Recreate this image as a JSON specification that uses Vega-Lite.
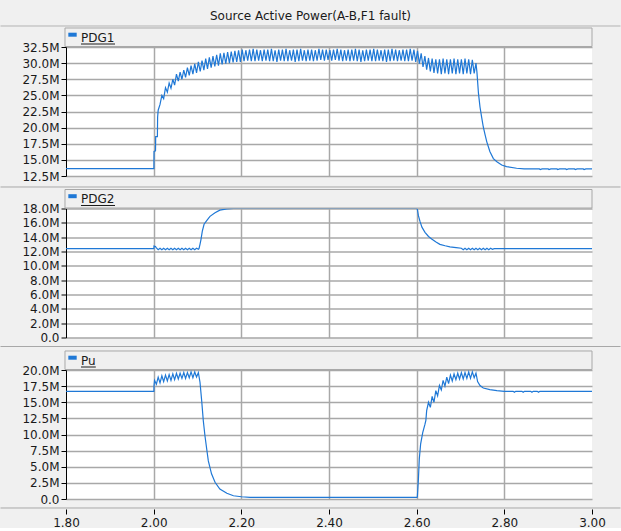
{
"$schema": "https://vega.github.io/schema/vega-lite/v6.json",
"background": "#f0f0f0",
"padding": {"left": 0, "right": 0, "top": 10, "bottom": 0},
"title": {"text": "Source Active Power(A-B,F1 fault)", "font": "DejaVu Sans", "fontSize": 12, "fontWeight": "normal", "color": "#1a1a1a", "offset": 2, "anchor": "middle"},
"config": {
  "view": {"fill": "white", "stroke": null},
  "concat": {"spacing": 32.5},
  "axis": {"gridColor": "#a8a8a8", "gridWidth": 1.5, "labelFont": "DejaVu Sans", "labelFontSize": 12, "labelColor": "#1a1a1a", "labelOverlap": false, "domainColor": "#000000", "tickColor": "#000000", "tickSize": 5},
  "axisY": {"labelPadding": 2, "labelExpr": "datum.value == 0 ? '0.0' : format(datum.value, '.1f') + 'M'"}
},
"datasets": {
"pdg1": [
{"t":1.8,"p":13.65},{"t":2.0005,"p":13.65},{"t":2.0008,"p":16.3},{"t":2.0042,"p":16.4},{"t":2.0046,"p":18.6},{"t":2.0085,"p":18.6},{"t":2.009,"p":21.6},{"t":2.0103,"p":22.7},{"t":2.0145,"p":23.6},{"t":2.0187,"p":25.0},{"t":2.0228,"p":24.5},
{"t":2.027,"p":26.2},{"t":2.0312,"p":25.5},{"t":2.0353,"p":26.9},{"t":2.0395,"p":26.1},{"t":2.0437,"p":27.5},{"t":2.0478,"p":26.6},
{"t":2.052,"p":28.3},{"t":2.0562,"p":27.2},{"t":2.0603,"p":28.6},{"t":2.0645,"p":27.5},{"t":2.0687,"p":28.9},{"t":2.0728,"p":27.8},
{"t":2.077,"p":29.3},{"t":2.0812,"p":28.1},{"t":2.0853,"p":29.6},{"t":2.0895,"p":28.3},{"t":2.0937,"p":29.9},{"t":2.0978,"p":28.5},
{"t":2.102,"p":30.2},{"t":2.1062,"p":28.7},{"t":2.1103,"p":30.4},{"t":2.1145,"p":28.9},{"t":2.1187,"p":30.7},{"t":2.1228,"p":29.1},
{"t":2.127,"p":30.9},{"t":2.1312,"p":29.3},{"t":2.1353,"p":31.1},{"t":2.1395,"p":29.5},{"t":2.1437,"p":31.3},{"t":2.1478,"p":29.6},
{"t":2.152,"p":31.5},{"t":2.1562,"p":29.8},{"t":2.1603,"p":31.6},{"t":2.1645,"p":29.9},{"t":2.1687,"p":31.7},{"t":2.1728,"p":30.0},
{"t":2.177,"p":31.8},{"t":2.1812,"p":30.1},{"t":2.1853,"p":31.9},{"t":2.1895,"p":30.2},{"t":2.1937,"p":32.0},{"t":2.1978,"p":30.2},
{"t":2.202,"p":32.1},{"t":2.2062,"p":30.3},{"t":2.2103,"p":32.0},{"t":2.2145,"p":30.4},{"t":2.2187,"p":32.1},{"t":2.2228,"p":30.3},
{"t":2.227,"p":32.2},{"t":2.2312,"p":30.3},{"t":2.2353,"p":32.1},{"t":2.2395,"p":30.4},{"t":2.2437,"p":32.0},{"t":2.2478,"p":30.3},
{"t":2.252,"p":32.1},{"t":2.2562,"p":30.4},{"t":2.2603,"p":32.1},{"t":2.2645,"p":30.3},{"t":2.2687,"p":32.2},{"t":2.2728,"p":30.3},
{"t":2.277,"p":32.0},{"t":2.2812,"p":30.2},{"t":2.2853,"p":32.1},{"t":2.2895,"p":30.4},{"t":2.2937,"p":32.1},{"t":2.2978,"p":30.3},
{"t":2.302,"p":32.2},{"t":2.3062,"p":30.3},{"t":2.3103,"p":32.0},{"t":2.3145,"p":30.4},{"t":2.3187,"p":32.1},{"t":2.3228,"p":30.2},
{"t":2.327,"p":32.1},{"t":2.3312,"p":30.3},{"t":2.3353,"p":32.2},{"t":2.3395,"p":30.4},{"t":2.3437,"p":32.0},{"t":2.3478,"p":30.3},
{"t":2.352,"p":32.1},{"t":2.3562,"p":30.4},{"t":2.3603,"p":32.1},{"t":2.3645,"p":30.3},{"t":2.3687,"p":32.0},{"t":2.3728,"p":30.4},
{"t":2.377,"p":32.2},{"t":2.3812,"p":30.5},{"t":2.3853,"p":32.1},{"t":2.3895,"p":30.4},{"t":2.3937,"p":32.1},{"t":2.3978,"p":30.5},
{"t":2.402,"p":32.0},{"t":2.4062,"p":30.4},{"t":2.4103,"p":32.1},{"t":2.4145,"p":30.5},{"t":2.4187,"p":32.2},{"t":2.4228,"p":30.4},
{"t":2.427,"p":32.1},{"t":2.4312,"p":30.3},{"t":2.4353,"p":32.0},{"t":2.4395,"p":30.4},{"t":2.4437,"p":32.1},{"t":2.4478,"p":30.3},
{"t":2.452,"p":32.1},{"t":2.4562,"p":30.4},{"t":2.4603,"p":32.2},{"t":2.4645,"p":30.3},{"t":2.4687,"p":32.1},{"t":2.4728,"p":30.2},
{"t":2.477,"p":32.0},{"t":2.4812,"p":30.3},{"t":2.4853,"p":32.1},{"t":2.4895,"p":30.4},{"t":2.4937,"p":32.1},{"t":2.4978,"p":30.3},
{"t":2.502,"p":32.2},{"t":2.5062,"p":30.3},{"t":2.5103,"p":32.1},{"t":2.5145,"p":30.4},{"t":2.5187,"p":32.0},{"t":2.5228,"p":30.3},
{"t":2.527,"p":32.1},{"t":2.5312,"p":30.2},{"t":2.5353,"p":32.1},{"t":2.5395,"p":30.3},{"t":2.5437,"p":32.2},{"t":2.5478,"p":30.4},
{"t":2.552,"p":32.1},{"t":2.5562,"p":30.3},{"t":2.5603,"p":32.0},{"t":2.5645,"p":30.4},{"t":2.5687,"p":32.1},{"t":2.5728,"p":30.3},
{"t":2.577,"p":32.1},{"t":2.5812,"p":30.3},{"t":2.5853,"p":32.2},{"t":2.5895,"p":30.4},{"t":2.5937,"p":32.1},{"t":2.5978,"p":30.2},
{"t":2.602,"p":31.9},{"t":2.6062,"p":29.9},{"t":2.6103,"p":31.5},{"t":2.6145,"p":29.4},{"t":2.6187,"p":31.1},{"t":2.6228,"p":29.0},
{"t":2.627,"p":30.8},{"t":2.6312,"p":28.7},{"t":2.6353,"p":30.7},{"t":2.6395,"p":28.5},{"t":2.6437,"p":30.6},{"t":2.6478,"p":28.4},
{"t":2.652,"p":30.6},{"t":2.6562,"p":28.3},{"t":2.6603,"p":30.7},{"t":2.6645,"p":28.4},{"t":2.6687,"p":30.6},{"t":2.6728,"p":28.3},
{"t":2.677,"p":30.6},{"t":2.6812,"p":28.4},{"t":2.6853,"p":30.7},{"t":2.6895,"p":28.3},{"t":2.6937,"p":30.6},{"t":2.6978,"p":28.4},
{"t":2.702,"p":30.6},{"t":2.7062,"p":28.3},{"t":2.7103,"p":30.7},{"t":2.7145,"p":28.4},{"t":2.7187,"p":30.6},{"t":2.7228,"p":28.3},
{"t":2.727,"p":30.5},{"t":2.7312,"p":28.4},{"t":2.7353,"p":30.0},{"t":2.7375,"p":28.6},
{"t":2.741,"p":25.3},{"t":2.7445,"p":23.2},{"t":2.748,"p":21.7},{"t":2.752,"p":20.1},{"t":2.756,"p":18.9},{"t":2.76,"p":17.8},{"t":2.767,"p":16.3},{"t":2.775,"p":15.2},{"t":2.783,"p":14.7},{"t":2.794,"p":14.2},{"t":2.805,"p":13.95},{"t":2.828,"p":13.7},{"t":2.845,"p":13.6},
{"t":2.88,"p":13.6},{"t":2.882,"p":13.5},{"t":2.886,"p":13.6},{"t":2.9,"p":13.6},{"t":2.902,"p":13.5},{"t":2.906,"p":13.6},{"t":2.92,"p":13.6},{"t":2.922,"p":13.5},{"t":2.926,"p":13.6},{"t":2.94,"p":13.6},{"t":2.942,"p":13.5},{"t":2.946,"p":13.6},{"t":2.96,"p":13.6},{"t":2.962,"p":13.5},{"t":2.966,"p":13.6},{"t":2.98,"p":13.6},{"t":2.982,"p":13.5},{"t":2.986,"p":13.6},{"t":3.0,"p":13.6}
],
"pdg2": [
{"t":1.8,"p":12.4},{"t":2.0005,"p":12.4},{"t":2.0008,"p":12.77},{"t":2.004,"p":12.7},{"t":2.0062,"p":12.5},{"t":2.0103,"p":12.25},{"t":2.0145,"p":12.45},{"t":2.0187,"p":12.25},{"t":2.0228,"p":12.45},{"t":2.027,"p":12.25},{"t":2.0312,"p":12.45},{"t":2.0353,"p":12.25},{"t":2.0395,"p":12.45},{"t":2.0437,"p":12.25},{"t":2.0478,"p":12.45},{"t":2.052,"p":12.25},{"t":2.0562,"p":12.45},{"t":2.0603,"p":12.25},{"t":2.0645,"p":12.45},{"t":2.0687,"p":12.25},{"t":2.0728,"p":12.45},{"t":2.077,"p":12.25},{"t":2.0812,"p":12.45},{"t":2.0853,"p":12.25},{"t":2.0895,"p":12.45},{"t":2.0937,"p":12.25},{"t":2.0978,"p":12.45},{"t":2.102,"p":12.3},{"t":2.1034,"p":12.4},
{"t":2.1057,"p":13.0},{"t":2.108,"p":13.7},{"t":2.111,"p":14.85},{"t":2.115,"p":15.8},{"t":2.121,"p":16.3},{"t":2.1285,"p":16.9},{"t":2.14,"p":17.4},{"t":2.151,"p":17.77},{"t":2.167,"p":17.96},{"t":2.182,"p":18.0},{"t":2.6,"p":18.0},
{"t":2.6015,"p":17.9},{"t":2.604,"p":17.0},{"t":2.6076,"p":16.2},{"t":2.612,"p":15.4},{"t":2.619,"p":14.67},{"t":2.627,"p":14.1},{"t":2.635,"p":13.7},{"t":2.645,"p":13.3},{"t":2.653,"p":13.0},{"t":2.665,"p":12.8},{"t":2.676,"p":12.65},{"t":2.69,"p":12.55},
{"t":2.702,"p":12.45},{"t":2.7062,"p":12.25},{"t":2.7103,"p":12.45},{"t":2.7145,"p":12.25},{"t":2.7187,"p":12.45},{"t":2.7228,"p":12.25},{"t":2.727,"p":12.45},{"t":2.7312,"p":12.25},{"t":2.7353,"p":12.45},{"t":2.7395,"p":12.25},{"t":2.7437,"p":12.45},{"t":2.7478,"p":12.25},{"t":2.752,"p":12.45},{"t":2.7562,"p":12.25},{"t":2.7603,"p":12.45},{"t":2.7645,"p":12.25},{"t":2.7687,"p":12.45},{"t":2.7728,"p":12.3},{"t":2.777,"p":12.4},{"t":3.0,"p":12.4}
],
"pu": [
{"t":1.8,"p":16.7},{"t":2.0005,"p":16.7},{"t":2.0008,"p":17.6},{"t":2.002,"p":18.4},{"t":2.0062,"p":17.8},{"t":2.0103,"p":18.9},{"t":2.0145,"p":18.0},{"t":2.0187,"p":19.1},{"t":2.0228,"p":18.2},
{"t":2.027,"p":19.2},{"t":2.0312,"p":18.3},{"t":2.0353,"p":19.3},{"t":2.0395,"p":18.4},{"t":2.0437,"p":19.4},{"t":2.0478,"p":18.5},
{"t":2.052,"p":19.5},{"t":2.0562,"p":18.6},{"t":2.0603,"p":19.5},{"t":2.0645,"p":18.7},{"t":2.0687,"p":19.6},{"t":2.0728,"p":18.7},
{"t":2.077,"p":19.6},{"t":2.0812,"p":18.8},{"t":2.0853,"p":19.7},{"t":2.0895,"p":18.8},{"t":2.0937,"p":19.7},{"t":2.0978,"p":18.9},{"t":2.102,"p":19.6},
{"t":2.1057,"p":18.1},{"t":2.1096,"p":15.2},{"t":2.1133,"p":12.1},{"t":2.117,"p":9.8},{"t":2.121,"p":7.75},{"t":2.1247,"p":5.9},{"t":2.132,"p":3.9},{"t":2.14,"p":2.6},{"t":2.151,"p":1.55},{"t":2.167,"p":0.9},{"t":2.182,"p":0.5},{"t":2.2,"p":0.35},{"t":2.22,"p":0.25},{"t":2.6,"p":0.25},
{"t":2.6015,"p":0.3},{"t":2.604,"p":3.1},{"t":2.606,"p":6.2},{"t":2.609,"p":8.5},{"t":2.6138,"p":10.3},{"t":2.619,"p":11.6},{"t":2.621,"p":12.2},{"t":2.6228,"p":13.7},
{"t":2.627,"p":15.0},{"t":2.6312,"p":14.2},{"t":2.6353,"p":15.9},{"t":2.6395,"p":15.0},{"t":2.6437,"p":16.8},{"t":2.6478,"p":16.0},
{"t":2.652,"p":17.6},{"t":2.6562,"p":16.9},{"t":2.6603,"p":18.4},{"t":2.6645,"p":17.5},{"t":2.6687,"p":18.9},{"t":2.6728,"p":17.9},
{"t":2.677,"p":19.2},{"t":2.6812,"p":18.3},{"t":2.6853,"p":19.4},{"t":2.6895,"p":18.5},{"t":2.6937,"p":19.5},{"t":2.6978,"p":18.6},
{"t":2.702,"p":19.6},{"t":2.7062,"p":18.6},{"t":2.7103,"p":19.6},{"t":2.7145,"p":18.7},{"t":2.7187,"p":19.7},{"t":2.7228,"p":18.7},
{"t":2.727,"p":19.7},{"t":2.7312,"p":18.8},{"t":2.7353,"p":19.5},{"t":2.739,"p":18.2},{"t":2.7445,"p":17.6},{"t":2.752,"p":17.2},{"t":2.767,"p":16.95},{"t":2.783,"p":16.8},{"t":2.8,"p":16.7},
{"t":2.82,"p":16.7},{"t":2.823,"p":16.55},{"t":2.826,"p":16.7},{"t":2.84,"p":16.7},{"t":2.843,"p":16.55},{"t":2.846,"p":16.7},{"t":2.86,"p":16.7},{"t":2.863,"p":16.55},{"t":2.866,"p":16.7},{"t":2.875,"p":16.7},{"t":2.878,"p":16.55},{"t":2.881,"p":16.7},{"t":3.0,"p":16.7}
]
},
"vconcat": [
{
 "width": 526, "height": 129,
 "resolve": {"axis": {"x": "independent", "y": "independent"}},
 "layer": [
  {"data": {"name": "pdg1"}, "mark": {"type": "line", "color": "#1f78d6", "strokeWidth": 1.2, "clip": true},
   "encoding": {
    "x": {"field": "t", "type": "quantitative", "scale": {"domain": [1.8, 3.0], "nice": false, "zero": false}, "axis": {"values": [2.0, 2.2, 2.4, 2.6, 2.8], "labels": false, "ticks": false, "domain": false, "grid": true, "title": null}},
    "y": {"field": "p", "type": "quantitative", "scale": {"domain": [12.5, 32.5], "nice": false, "zero": false}, "axis": {"values": [12.5, 15, 17.5, 20, 22.5, 25, 27.5, 30, 32.5], "title": null}}
   }},
  {"data": {"values": [{}]}, "mark": {"type": "rule", "color": "#b4b4b4", "strokeWidth": 1},
   "encoding": {"x": {"datum": 1.6506, "type": "quantitative", "axis": null}, "x2": {"datum": 3.065}, "y": {"datum": 35.756, "type": "quantitative", "axis": null}}},
  {"data": {"values": [{}]}, "mark": {"type": "rect", "fill": "#f0f0f0", "stroke": "#a8a8a8", "strokeWidth": 1},
   "encoding": {"x": {"datum": 1.7977, "type": "quantitative", "axis": null}, "x2": {"datum": 3.0}, "y": {"datum": 35.446, "type": "quantitative", "axis": null}, "y2": {"datum": 32.578}}},
  {"data": {"values": [{}]}, "mark": {"type": "rect", "fill": "#1f78d6"},
   "encoding": {"x": {"datum": 1.8053, "type": "quantitative", "axis": null}, "x2": {"datum": 1.8244}, "y": {"datum": 34.717, "type": "quantitative", "axis": null}, "y2": {"datum": 34.097}}},
  {"data": {"values": [{}]}, "mark": {"type": "text", "align": "left", "baseline": "middle", "font": "DejaVu Sans", "fontSize": 12, "color": "#1a1a1a"},
   "encoding": {"x": {"datum": 1.8342, "type": "quantitative", "axis": null}, "y": {"datum": 33.895, "type": "quantitative", "axis": null}, "text": {"value": "PDG1"}}},
  {"data": {"values": [{}]}, "mark": {"type": "rule", "color": "#1a1a1a", "strokeWidth": 1},
   "encoding": {"x": {"datum": 1.8342, "type": "quantitative", "axis": null}, "x2": {"datum": 1.9118}, "y": {"datum": 32.965, "type": "quantitative", "axis": null}}},
  {"data": {"values": [{}]}, "mark": {"type": "rule", "color": "#a8a8a8", "strokeWidth": 1},
   "encoding": {"x": {"datum": 1.6506, "type": "quantitative", "axis": null}, "x2": {"datum": 3.065}, "y": {"datum": 10.795, "type": "quantitative", "axis": null}}}
 ]
},
{
 "width": 526, "height": 129,
 "resolve": {"axis": {"x": "independent", "y": "independent"}},
 "layer": [
  {"data": {"name": "pdg2"}, "mark": {"type": "line", "color": "#1f78d6", "strokeWidth": 1.2, "clip": true},
   "encoding": {
    "x": {"field": "t", "type": "quantitative", "scale": {"domain": [1.8, 3.0], "nice": false, "zero": false}, "axis": {"values": [2.0, 2.2, 2.4, 2.6, 2.8], "labels": false, "ticks": false, "domain": false, "grid": true, "title": null}},
    "y": {"field": "p", "type": "quantitative", "scale": {"domain": [0, 18], "nice": false, "zero": false}, "axis": {"values": [0, 2, 4, 6, 8, 10, 12, 14, 16, 18], "title": null}}
   }},
  {"data": {"values": [{}]}, "mark": {"type": "rect", "fill": "#f0f0f0", "stroke": "#a8a8a8", "strokeWidth": 1},
   "encoding": {"x": {"datum": 1.7977, "type": "quantitative", "axis": null}, "x2": {"datum": 3.0}, "y": {"datum": 20.651, "type": "quantitative", "axis": null}, "y2": {"datum": 18.07}}},
  {"data": {"values": [{}]}, "mark": {"type": "rect", "fill": "#1f78d6"},
   "encoding": {"x": {"datum": 1.8053, "type": "quantitative", "axis": null}, "x2": {"datum": 1.8244}, "y": {"datum": 19.995, "type": "quantitative", "axis": null}, "y2": {"datum": 19.437}}},
  {"data": {"values": [{}]}, "mark": {"type": "text", "align": "left", "baseline": "middle", "font": "DejaVu Sans", "fontSize": 12, "color": "#1a1a1a"},
   "encoding": {"x": {"datum": 1.8342, "type": "quantitative", "axis": null}, "y": {"datum": 19.256, "type": "quantitative", "axis": null}, "text": {"value": "PDG2"}}},
  {"data": {"values": [{}]}, "mark": {"type": "rule", "color": "#1a1a1a", "strokeWidth": 1},
   "encoding": {"x": {"datum": 1.8342, "type": "quantitative", "axis": null}, "x2": {"datum": 1.9118}, "y": {"datum": 18.419, "type": "quantitative", "axis": null}}},
  {"data": {"values": [{}]}, "mark": {"type": "rule", "color": "#a8a8a8", "strokeWidth": 1},
   "encoding": {"x": {"datum": 1.6506, "type": "quantitative", "axis": null}, "x2": {"datum": 3.065}, "y": {"datum": -1.256, "type": "quantitative", "axis": null}}}
 ]
},
{
 "width": 526, "height": 129,
 "resolve": {"axis": {"x": "independent", "y": "independent"}},
 "layer": [
  {"data": {"name": "pu"}, "mark": {"type": "line", "color": "#1f78d6", "strokeWidth": 1.2, "clip": true},
   "encoding": {
    "x": {"field": "t", "type": "quantitative", "scale": {"domain": [1.8, 3.0], "nice": false, "zero": false}, "axis": {"values": [1.8, 2.0, 2.2, 2.4, 2.6, 2.8, 3.0], "format": ".2f", "labelFlush": false, "offset": 10, "labelPadding": 3, "domain": false, "grid": true, "gridOpacity": {"condition": {"test": "datum.value < 1.85 || datum.value > 2.95", "value": 0}, "value": 1}, "title": null}},
    "y": {"field": "p", "type": "quantitative", "scale": {"domain": [0, 20], "nice": false, "zero": false}, "axis": {"values": [0, 2.5, 5, 7.5, 10, 12.5, 15, 17.5, 20], "title": null}}
   }},
  {"data": {"values": [{}]}, "mark": {"type": "rect", "fill": "#f0f0f0", "stroke": "#a8a8a8", "strokeWidth": 1},
   "encoding": {"x": {"datum": 1.7977, "type": "quantitative", "axis": null}, "x2": {"datum": 3.0}, "y": {"datum": 22.946, "type": "quantitative", "axis": null}, "y2": {"datum": 20.078}}},
  {"data": {"values": [{}]}, "mark": {"type": "rect", "fill": "#1f78d6"},
   "encoding": {"x": {"datum": 1.8053, "type": "quantitative", "axis": null}, "x2": {"datum": 1.8244}, "y": {"datum": 22.217, "type": "quantitative", "axis": null}, "y2": {"datum": 21.597}}},
  {"data": {"values": [{}]}, "mark": {"type": "text", "align": "left", "baseline": "middle", "font": "DejaVu Sans", "fontSize": 12, "color": "#1a1a1a"},
   "encoding": {"x": {"datum": 1.8342, "type": "quantitative", "axis": null}, "y": {"datum": 21.395, "type": "quantitative", "axis": null}, "text": {"value": "Pu"}}},
  {"data": {"values": [{}]}, "mark": {"type": "rule", "color": "#1a1a1a", "strokeWidth": 1},
   "encoding": {"x": {"datum": 1.8342, "type": "quantitative", "axis": null}, "x2": {"datum": 1.868}, "y": {"datum": 20.465, "type": "quantitative", "axis": null}}},
  {"data": {"values": [{}]}, "mark": {"type": "rule", "color": "#a8a8a8", "strokeWidth": 1},
   "encoding": {"x": {"datum": 1.6506, "type": "quantitative", "axis": null}, "x2": {"datum": 3.065}, "y": {"datum": -1.395, "type": "quantitative", "axis": null}}}
 ]
}
],
"bounds": "flush"
}
